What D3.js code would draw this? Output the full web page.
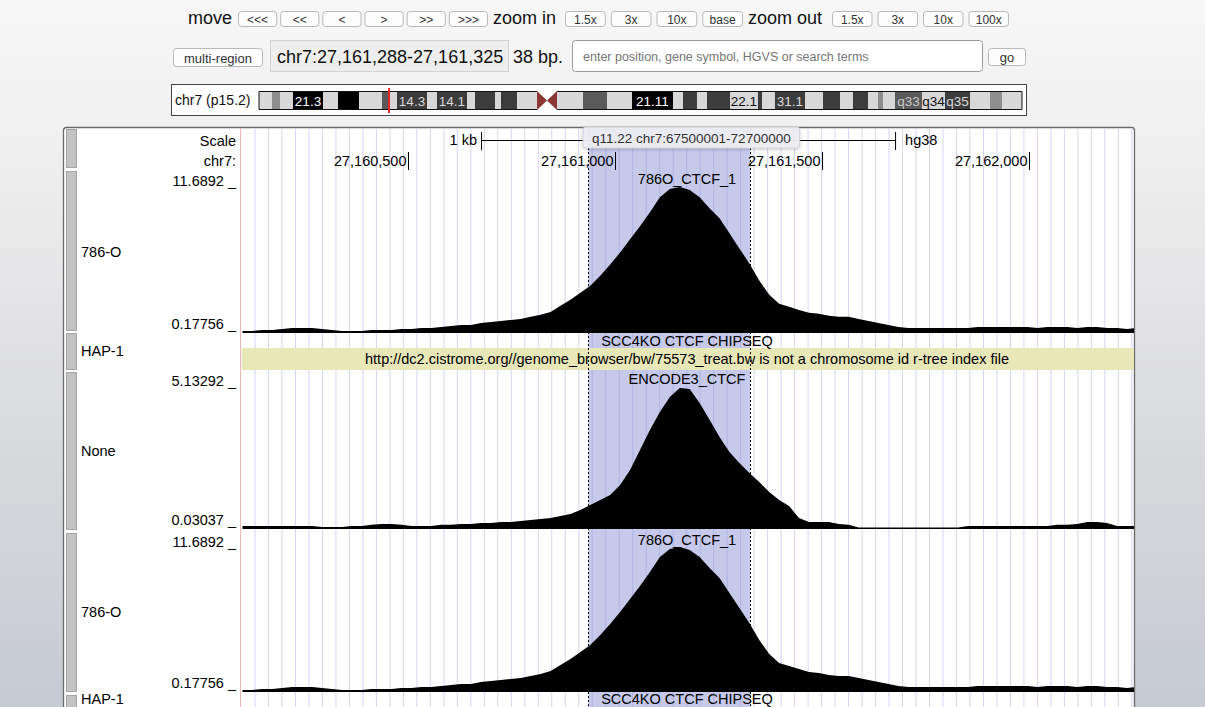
<!DOCTYPE html>
<html>
<head>
    <title>Genome browser view</title>
    <script src="https://cdnjs.cloudflare.com/ajax/libs/d3/7.8.5/d3.min.js"></script>
    <style>
        body { margin: 0; overflow: hidden; }
        text { font-family: "Liberation Sans", Arial, Helvetica, sans-serif; }
    </style>
</head>
<body>
    <svg id="page" width="1205" height="707"></svg>

    <script>
        // navigation bar
        var moveButtons = ["<<<", "<<", "<", ">", ">>", ">>>"];
        var zoomInButtons = ["1.5x", "3x", "10x", "base"];
        var zoomOutButtons = ["1.5x", "3x", "10x", "100x"];
        var positionText = "chr7:27,161,288-27,161,325";
        var sizeText = "38 bp.";
        var searchHint = "enter position, gene symbol, HGVS or search terms";

        // chromosome ideogram (Mb)
        var chromLabel = "chr7 (p15.2)";
        var chromLength = 159.35;
        var cursorMb = 27.16;
        var bandStarts = [0, 2.72, 4.39, 7.10, 13.37, 16.50, 20.88, 25.69, 27.30, 28.82, 35.09, 37.17, 43.44, 45.11, 49.29, 50.54, 53.88, 58.06, 60.15, 62.24, 67.67, 72.68, 77.90, 86.46, 88.55, 91.47, 93.56, 98.37, 104.21, 105.05, 107.76, 114.03, 117.79, 121.34, 124.05, 127.19, 129.27, 130.32, 132.82, 138.46, 143.27, 148.49, 152.67, 155.17];
        var bandStains = ["gneg", "gpos25", "gneg", "gpos100", "gneg", "gpos100", "gneg", "gpos50", "gneg", "gpos75", "gneg", "gpos75", "gneg", "gpos75", "gneg", "gpos75", "gneg", "acenP", "acenQ", "gneg", "gpos50", "gneg", "gpos100", "gneg", "gpos75", "gneg", "gpos75", "gneg", "gpos75", "gneg", "gpos75", "gneg", "gpos75", "gneg", "gpos75", "gneg", "gpos25", "gneg", "gpos50", "gneg", "gpos75", "gneg", "gpos25", "gneg"];
        var bandLabels = ["", "", "", "21.3", "", "", "", "", "", "14.3", "", "14.1", "", "", "", "", "", "", "", "", "", "", "21.11", "", "", "", "", "22.1", "", "", "31.1", "", "", "", "", "", "", "", "q33", "q34", "q35", "", "", ""];
        var tooltipText = "q11.22 chr7:67500001-72700000";

        // genome window
        var viewStart = 27160094, viewEnd = 27162253;
        var rulerTicks = [27160500, 27161000, 27161500, 27162000];
        var scaleBar = [27160676, 27161676];
        var highlightRegion = [27160935, 27161326];
        var binStart = 27160100, binSize = 24;

        // signal tracks
        var ctcf786O = [0.34,0.34,0.42,0.42,0.49,0.57,0.57,0.57,0.49,0.42,
            0.34,0.34,0.34,0.42,0.42,0.42,0.49,0.49,0.57,0.57,
            0.65,0.73,0.81,0.81,0.97,1.05,1.13,1.21,1.29,1.45,
            1.61,1.84,2.32,2.80,3.35,3.91,4.70,5.58,6.53,7.56,
            8.59,9.70,10.89,11.53,11.69,11.45,10.89,10.02,9.23,8.04,
            6.85,5.66,4.31,3.19,2.48,2.24,2.00,1.77,1.69,1.53,
            1.45,1.45,1.29,1.13,0.97,0.81,0.65,0.57,0.57,0.57,
            0.57,0.57,0.57,0.57,0.65,0.65,0.65,0.65,0.65,0.65,
            0.57,0.65,0.65,0.65,0.57,0.65,0.65,0.57,0.57,0.49,
            0.57];
        var encode3Ctcf = [0.14,0.14,0.14,0.14,0.14,0.14,0.14,0.14,0.10,0.10,
            0.10,0.14,0.14,0.18,0.21,0.21,0.18,0.14,0.14,0.14,
            0.18,0.18,0.21,0.21,0.25,0.25,0.28,0.28,0.32,0.36,
            0.39,0.43,0.50,0.57,0.72,0.90,1.08,1.26,1.62,2.17,
            2.89,3.61,4.26,4.81,5.13,5.10,4.59,3.98,3.36,2.82,
            2.42,2.06,1.73,1.37,1.08,0.86,0.43,0.28,0.28,0.28,
            0.21,0.18,0.07,0.03,0.03,0.03,0.03,0.03,0.03,0.03,
            0.03,0.03,0.03,0.14,0.14,0.14,0.14,0.14,0.14,0.14,
            0.14,0.14,0.18,0.18,0.21,0.28,0.28,0.25,0.14,0.14,
            0.14];

        var trackSides = ["786-O", "HAP-1", "None", "786-O", "HAP-1"];
        var trackTitles = ["786O_CTCF_1", "SCC4KO CTCF CHIPSEQ", "ENCODE3_CTCF", "786O_CTCF_1", "SCC4KO CTCF CHIPSEQ"];
        var trackData = [ctcf786O, null, encode3Ctcf, ctcf786O, null];
        var trackRanges = [[0.17756, 11.6892], null, [0.03037, 5.13292], [0.17756, 11.6892], null];
        var errorText = "http://dc2.cistrome.org//genome_browser/bw/75573_treat.bw is not a chromosome id r-tree index file";

        // vertical layout of the tracks
        var trackLayout = [
            {title: 179, side: 252, top: 187, bottom: 333, bar: [171, 330]},
            {title: 341, side: 351, err: [348, 370], bar: [333, 369]},
            {title: 379, side: 451, top: 388, bottom: 529, bar: [372, 529]},
            {title: 540, side: 612, top: 547, bottom: 692, bar: [533, 691]},
            {title: 699, side: 699, bar: [695, 730]}
        ];
        var fs = 14.5;

        var svg = d3.select("#page");
        var fmt = d3.format(",");

        // page background
        var defs = svg.append("defs");
        var grad = defs.append("linearGradient").attr("id", "bg").attr("x1", 0).attr("y1", 0).attr("x2", 0).attr("y2", 1);
        grad.append("stop").attr("offset", "0%").attr("stop-color", "#f7f7f7");
        grad.append("stop").attr("offset", "17%").attr("stop-color", "#f1f1f1");
        grad.append("stop").attr("offset", "62%").attr("stop-color", "#d9dadd");
        grad.append("stop").attr("offset", "100%").attr("stop-color", "#c6cad2");
        var shadow = defs.append("filter").attr("id", "shadow").attr("x", "-10%").attr("y", "-30%").attr("width", "120%").attr("height", "180%");
        shadow.append("feDropShadow").attr("dx", 0).attr("dy", 1).attr("stdDeviation", 1.5).attr("flood-opacity", 0.25);
        defs.append("clipPath").attr("id", "dataClip").append("rect")
            .attr("x", 240).attr("y", 128).attr("width", 894).attr("height", 600);

        svg.append("rect").attr("width", 1205).attr("height", 707).attr("fill", "url(#bg)");

        function textWidth(str, size) {
            var t = svg.append("text").style("font-size", size + "px").text(str);
            var w = t.node().getComputedTextLength();
            t.remove();
            return w;
        }

        function button(x, y, w, h, label, size) {
            svg.append("rect").attr("x", x + 0.5).attr("y", y + 0.5).attr("width", w).attr("height", h)
                .attr("rx", 3).attr("fill", "#fdfdfd").attr("stroke", "#b8b8b8");
            svg.append("text").attr("x", x + w / 2 + 0.5).attr("y", y + h / 2 + 1)
                .attr("text-anchor", "middle").attr("dominant-baseline", "central")
                .style("font-size", size + "px").attr("fill", "#333").text(label);
        }

        // row 1: move / zoom (word, its x, the span its buttons fill)
        function navGroup(word, x, list, from, to, gap) {
            svg.append("text").attr("x", x).attr("y", 18).attr("dominant-baseline", "central")
                .style("font-size", "18px").attr("fill", "#111").text(word);
            var w = (to - from - gap * (list.length - 1)) / list.length;
            list.forEach(function(l, i) {
                button(from + i * (w + gap), 11, w, 15, l, 12);
            });
        }
        navGroup("move", 188, moveButtons, 238, 487, 4);
        navGroup("zoom in", 493, zoomInButtons, 565, 742, 6);
        navGroup("zoom out", 748, zoomOutButtons, 832, 1008, 6);

        // row 2: position
        button(173, 48, 89, 18, "multi-region", 13);
        svg.append("rect").attr("x", 270.5).attr("y", 40.5).attr("width", 238).attr("height", 31)
            .attr("fill", "#eeeeee").attr("stroke", "#d2d2d2");
        svg.append("text").attr("x", 277).attr("y", 57).attr("dominant-baseline", "central")
            .style("font-size", "18px").attr("fill", "#111").text(positionText);
        svg.append("text").attr("x", 513).attr("y", 57).attr("dominant-baseline", "central")
            .style("font-size", "18px").attr("fill", "#111").text(sizeText);
        svg.append("rect").attr("x", 572.5).attr("y", 40.5).attr("width", 410).attr("height", 31)
            .attr("rx", 3).attr("fill", "#ffffff").attr("stroke", "#9a9a9a");
        svg.append("text").attr("x", 583).attr("y", 57).attr("dominant-baseline", "central")
            .style("font-size", "12.5px").attr("fill", "#767676").text(searchHint);
        button(988, 48, 37, 17, "go", 13);

        // ideogram
        var chrX = d3.scaleLinear().domain([0, chromLength]).range([259, 1022]);
        var stainFill = {gneg: "#d8d8d8", gpos25: "#8e8e8e", gpos50: "#5a5a5a", gpos75: "#3c3c3c", gpos100: "#000000"};
        var stainText = {gneg: "#111111", gpos25: "#111111", gpos50: "#c8c8c8", gpos75: "#d8d8d8", gpos100: "#ffffff"};
        var bandTop = 91, bandBottom = 110;

        svg.append("rect").attr("x", 171.5).attr("y", 84.5).attr("width", 855).attr("height", 31)
            .attr("fill", "#ffffff").attr("stroke", "#444");
        svg.append("text").attr("x", 175).attr("y", 100).attr("dominant-baseline", "central")
            .style("font-size", "14px").attr("fill", "#111").text(chromLabel);

        var ideo = svg.append("g");
        bandStarts.forEach(function(s, i) {
            var e = i + 1 < bandStarts.length ? bandStarts[i + 1] : chromLength;
            var x0 = chrX(s), x1 = chrX(e), st = bandStains[i];
            if (st === "acenP") {
                ideo.append("path").attr("fill", "#8e3535")
                    .attr("d", "M" + x0 + "," + bandTop + "L" + x1 + "," + (bandTop + bandBottom) / 2 + "L" + x0 + "," + bandBottom + "Z");
            } else if (st === "acenQ") {
                ideo.append("path").attr("fill", "#8e3535")
                    .attr("d", "M" + x1 + "," + bandTop + "L" + x0 + "," + (bandTop + bandBottom) / 2 + "L" + x1 + "," + bandBottom + "Z");
            } else {
                ideo.append("rect").attr("x", x0).attr("y", bandTop).attr("width", x1 - x0).attr("height", bandBottom - bandTop)
                    .attr("fill", stainFill[st]);
                if (bandLabels[i]) {
                    ideo.append("text").attr("x", (x0 + x1) / 2).attr("y", (bandTop + bandBottom) / 2 + 0.5)
                        .attr("text-anchor", "middle").attr("dominant-baseline", "central")
                        .style("font-size", "13.5px").attr("fill", stainText[st]).text(bandLabels[i]);
                }
            }
        });
        ideo.append("path").attr("fill", "none").attr("stroke", "#111")
            .attr("d", "M" + chrX(bandStarts[17]) + "," + (bandTop + 0.5) + "H" + chrX(0) + "V" + (bandBottom - 0.5) + "H" + chrX(bandStarts[17]) +
                "M" + chrX(bandStarts[19]) + "," + (bandTop + 0.5) + "H" + chrX(chromLength) + "V" + (bandBottom - 0.5) + "H" + chrX(bandStarts[19]));
        ideo.append("line").attr("x1", chrX(cursorMb)).attr("x2", chrX(cursorMb)).attr("y1", 88).attr("y2", 113)
            .attr("stroke", "#e3262b").attr("stroke-width", 2);

        // track panel
        svg.append("rect").attr("x", 63.5).attr("y", 127.5).attr("width", 1071).attr("height", 620)
            .attr("rx", 3).attr("fill", "#ffffff").attr("stroke", "#6a6a6a").attr("stroke-width", 1.3);

        var gx = d3.scaleLinear().domain([viewStart, viewEnd]).range([240, 1134]);
        var plot = svg.append("g").attr("clip-path", "url(#dataClip)");

        plot.selectAll("line.guide")
            .data(d3.range(255, 1134, 13.49))
            .enter()
            .append("line")
            .attr("x1", d => d).attr("x2", d => d)
            .attr("y1", 128).attr("y2", 707)
            .attr("stroke", "#d3d4f1").attr("stroke-width", 1);

        plot.append("rect")
            .attr("x", gx(highlightRegion[0])).attr("y", 128)
            .attr("width", gx(highlightRegion[1]) - gx(highlightRegion[0])).attr("height", 600)
            .attr("fill", "#8e93d4").attr("opacity", 0.5);

        svg.append("line").attr("x1", 240.5).attr("x2", 240.5).attr("y1", 128).attr("y2", 707)
            .attr("stroke", "#f2b5b5");

        // left side buttons
        trackLayout.forEach(function(t) {
            svg.append("rect").attr("x", 66.5).attr("y", t.bar[0] + 0.5).attr("width", 10).attr("height", t.bar[1] - t.bar[0])
                .attr("fill", "#c3c3c3").attr("stroke", "#a5a5a5");
        });
        svg.append("rect").attr("x", 66.5).attr("y", 129.5).attr("width", 10).attr("height", 38)
            .attr("fill", "#c3c3c3").attr("stroke", "#a5a5a5");

        // ruler
        svg.append("text").attr("x", 236).attr("y", 141).attr("text-anchor", "end").attr("dominant-baseline", "central")
            .style("font-size", fs + "px").text("Scale");
        svg.append("text").attr("x", 236).attr("y", 161).attr("text-anchor", "end").attr("dominant-baseline", "central")
            .style("font-size", fs + "px").text("chr7:");

        var sb0 = gx(scaleBar[0]), sb1 = gx(scaleBar[1]);
        svg.append("line").attr("x1", sb0).attr("x2", sb1).attr("y1", 140.5).attr("y2", 140.5).attr("stroke", "#000");
        [sb0, sb1].forEach(function(x) {
            svg.append("line").attr("x1", x + 0.5).attr("x2", x + 0.5).attr("y1", 132).attr("y2", 150).attr("stroke", "#000");
        });
        svg.append("text").attr("x", sb0 - 4).attr("y", 140).attr("text-anchor", "end").attr("dominant-baseline", "central")
            .style("font-size", fs + "px").text((scaleBar[1] - scaleBar[0]) / 1000 + " kb");
        svg.append("text").attr("x", sb1 + 10).attr("y", 140).attr("dominant-baseline", "central")
            .style("font-size", fs + "px").text("hg38");

        rulerTicks.forEach(function(p) {
            var x = Math.round(gx(p)) + 0.5;
            svg.append("line").attr("x1", x).attr("x2", x).attr("y1", 152).attr("y2", 170).attr("stroke", "#000");
            svg.append("text").attr("x", x - 2).attr("y", 161).attr("text-anchor", "end").attr("dominant-baseline", "central")
                .style("font-size", fs + "px").text(fmt(p));
        });

        // tracks
        var midX = (240 + 1134) / 2;
        trackLayout.forEach(function(t, i) {
            svg.append("text").attr("x", 81).attr("y", t.side).attr("dominant-baseline", "central")
                .style("font-size", fs + "px").text(trackSides[i]);

            if (trackData[i]) {
                var range = trackRanges[i];
                var y = d3.scaleLinear().domain(range).range([t.bottom, t.top]);
                var area = d3.area()
                    .x((d, k) => gx(binStart + k * binSize))
                    .y0(t.bottom)
                    .y1(d => Math.min(y(d), t.bottom - 1.5))
                    .curve(d3.curveLinear);
                plot.append("path").datum(trackData[i]).attr("d", area).attr("fill", "#000");

                svg.append("text").attr("x", 236).attr("y", t.title + 2).attr("text-anchor", "end").attr("dominant-baseline", "central")
                    .style("font-size", fs + "px").text(range[1] + " _");
                svg.append("text").attr("x", 236).attr("y", t.bottom - 9).attr("text-anchor", "end").attr("dominant-baseline", "central")
                    .style("font-size", fs + "px").text(range[0] + " _");
            }
            if (t.err) {
                svg.append("rect").attr("x", 242).attr("y", t.err[0]).attr("width", 892).attr("height", t.err[1] - t.err[0])
                    .attr("fill", "#e7e7b7");
                svg.append("text").attr("x", midX).attr("y", (t.err[0] + t.err[1]) / 2).attr("text-anchor", "middle")
                    .attr("dominant-baseline", "central").style("font-size", fs + "px").text(errorText);
            }
        });

        // highlight borders
        highlightRegion.forEach(function(p) {
            var x = Math.round(gx(p)) + 0.5;
            svg.append("line").attr("x1", x).attr("x2", x).attr("y1", 128).attr("y2", 707)
                .attr("stroke", "#000").attr("stroke-dasharray", "2,2");
        });

        trackLayout.forEach(function(t, i) {
            svg.append("text").attr("x", midX).attr("y", t.title).attr("text-anchor", "middle")
                .attr("dominant-baseline", "central").style("font-size", fs + "px").text(trackTitles[i]);
        });

        // hover tooltip
        var tip = svg.append("g").attr("filter", "url(#shadow)");
        var tipW = textWidth(tooltipText, 13.5) + 18;
        tip.append("rect").attr("x", 583).attr("y", 127).attr("width", tipW).attr("height", 21).attr("rx", 3)
            .attr("fill", "#eeeef3").attr("opacity", 0.95).attr("stroke", "#d2d2d8");
        svg.append("text").attr("x", 592).attr("y", 138).attr("dominant-baseline", "central")
            .style("font-size", "13.5px").attr("fill", "#333").text(tooltipText);
    </script>
</body>
</html>
